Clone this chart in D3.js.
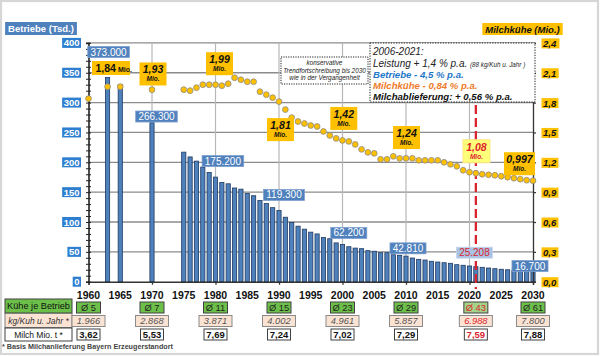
<!DOCTYPE html>
<html><head><meta charset="utf-8">
<script src="https://cdn.jsdelivr.net/npm/d3@7"></script>
<style>body{margin:0;background:#fff}svg{display:block;font-family:"Liberation Sans",Arial,sans-serif}</style>
</head><body><svg id="c" width="600" height="356"></svg>
<script>
// ---------- data ----------
const barYears = [1963,1965,1970,1975,1976,1977,1978,1979,1980,1981,1982,1983,1984,1985,1986,1987,1988,1989,1990,1991,1992,1993,1994,1995,1996,1997,1998,1999,2000,2001,2002,2003,2004,2005,2006,2007,2008,2009,2010,2011,2012,2013,2014,2015,2016,2017,2018,2019,2020,2021,2022,2023,2024,2025,2026,2027,2028,2029,2030];
const betriebe = [342,330,266.3,217,209,202,192,183,175.2,166,164,157,155,148,144,136,131,124,119.3,108,99,93,88,83,80,74,72,65,62.2,58.6,56.3,55.3,52,51,48.6,48.6,45.2,44.2,42.8,39.7,37.5,36.3,34.2,33,31.8,30.8,28.5,27.5,26.3,25.2,24.1,22.9,21.8,20.8,20,19.2,18.4,17.5,16.7];
const kuhYears = [1960,1963,1965,1970,1975,1976,1977,1978,1979,1980,1981,1982,1983,1984,1985,1986,1987,1988,1989,1990,1991,1992,1993,1994,1995,1996,1997,1998,1999,2000,2001,2002,2003,2004,2005,2006,2007,2008,2009,2010,2011,2012,2013,2014,2015,2016,2017,2018,2019,2020,2021,2022,2023,2024,2025,2026,2027,2028,2029,2030];
const milchkuehe = [1.84,1.96,1.96,1.93,1.93,1.92,1.95,1.98,1.98,1.98,1.97,1.99,2.05,2.03,2.01,2.01,1.91,1.88,1.85,1.81,1.73,1.65,1.61,1.59,1.57,1.56,1.51,1.47,1.44,1.42,1.41,1.38,1.33,1.30,1.29,1.23,1.23,1.26,1.24,1.24,1.24,1.22,1.22,1.22,1.22,1.20,1.18,1.16,1.12,1.10,1.09,1.08,1.075,1.07,1.06,1.05,1.04,1.03,1.02,1.015];
const leftTicks = [0,50,100,150,200,250,300,350,400];
const rightTicks = [0,0.3,0.6,0.9,1.2,1.5,1.8,2.1,2.4];
const rightTickLabels = ["0,0","0,3","0,6","0,9","1,2","1,5","1,8","2,1","2,4"];
const xLabelYears = [1960,1965,1970,1975,1980,1985,1990,1995,2000,2005,2010,2015,2020,2025,2030];
const gridYears = [1970,1980,1990,2000,2010,2020];
const betriebeLabelYears = [1963,1970,1980,1990,2000,2010,2021,2030];
const betriebeLabelTexts = ["373.000","266.300","175.200","119.300","62.200","42.810","25.208","16.700"];
const kuhLabelYears = [1960,1970,1980,1990,2000,2010,2021,2030];
const kuhLabelTexts = ["1,84","1,93","1,99","1,81","1,42","1,24","1,08","0,997"];
const tableYears = [1960,1970,1980,1990,2000,2010,2021,2030];
const kueheJeBetrieb = ["Ø 5","Ø 7","Ø 11","Ø 15","Ø 23","Ø 29","Ø 43","Ø 61"];
const kgProKuh = ["1.966","2.868","3.871","4.002","4.961","5.857","6.988","7.800"];
const milchMioT = ["3,62","5,53","7,69","7,24","7,02","7,29","7,59","7,88"];
const highlightYear = 2021;

// ---------- layout ----------
const svg = d3.select("#c");
const x = d3.scaleLinear().domain([1960,2030]).range([88.5,533]);
const yL = d3.scaleLinear().domain([0,400]).range([281.7,42.9]);
const yR = d3.scaleLinear().domain([0,2.4]).range([281.7,42.9]);
const BLUE = "#4f81bd", TICKBLUE = "#2f7fd0", YEL = "#ffc000", RED = "#d9262e";

svg.append("rect").attr("x",1).attr("y",1).attr("width",597).attr("height",353)
  .attr("fill","#fff").attr("stroke","#d6d6d6").attr("stroke-width",2.2);

function boxText(parent, cx, cy, text, o) {
  const g = parent.append("g");
  const t = g.append("text").attr("x",cx).attr("y",cy).attr("text-anchor",o.anchor||"middle")
    .attr("dominant-baseline","central").attr("font-size",o.size).attr("font-weight",o.weight||"normal")
    .attr("font-style",o.style||"normal").attr("fill",o.color).text(text);
  const bb = t.node().getBBox();
  const w = o.w || bb.width + 2*(o.padX||2);
  const h = o.h || 11;
  let left = o.anchor==="end" ? cx - bb.width - (o.padX||2) : (o.anchor==="start" ? cx-(o.padX||2) : cx - w/2);
  g.insert("rect","text").attr("x",left).attr("y",cy-h/2).attr("width",w).attr("height",h)
    .attr("fill",o.fill).attr("stroke",o.stroke||"none").attr("stroke-width",o.sw||1);
  return g;
}

// gridlines
svg.append("g").selectAll("line").data(leftTicks.slice(1)).join("line")
  .attr("x1",x(1960)).attr("x2",x(2030)).attr("y1",d=>yL(d)).attr("y2",d=>yL(d))
  .attr("stroke","#8c8c8c").attr("stroke-width",1.3);
svg.append("g").selectAll("line").data(gridYears).join("line")
  .attr("x1",d=>x(d)).attr("x2",d=>x(d)).attr("y1",yL(400)).attr("y2",yL(0))
  .attr("stroke","#b8b8b8").attr("stroke-width",1.2);

// bars
const bw = 4.2;
svg.append("g").selectAll("rect").data(barYears.map((y,i)=>({y,v:betriebe[i]}))).join("rect")
  .attr("x",d=>x(d.y)-bw/2).attr("width",bw).attr("y",d=>yL(d.v)).attr("height",d=>yL(0)-yL(d.v))
  .attr("fill",BLUE).attr("stroke","#1f3a60").attr("stroke-width",0.8);

// axes
const gx = svg.append("g").attr("transform",`translate(0,${yL(0)})`)
  .call(d3.axisBottom(x).tickValues(gridYears.concat([1960,2030])).tickSize(3).tickFormat(""));
gx.select(".domain").attr("stroke","#333").attr("stroke-width",1.5);
gx.selectAll(".tick line").attr("stroke","#333").attr("stroke-width",1.3);

const gl = svg.append("g").attr("transform",`translate(${x(1960)},0)`)
  .call(d3.axisLeft(yL).tickValues(d3.range(0,401,10)).tickSize(2.5).tickFormat(""));
gl.select(".domain").attr("stroke","#222").attr("stroke-width",1.6);
gl.selectAll(".tick line").attr("stroke","#222").attr("stroke-width",1);
const gl2 = svg.append("g").attr("transform",`translate(${x(1960)},0)`)
  .call(d3.axisRight(yL).tickValues(d3.range(0,401,10)).tickSize(2.5).tickFormat(""));
gl2.select(".domain").remove();
gl2.selectAll(".tick line").attr("stroke","#222").attr("stroke-width",1);

const gr = svg.append("g").attr("transform",`translate(${x(2030)},0)`)
  .call(d3.axisRight(yR).tickValues(rightTicks).tickSize(3).tickFormat(""));
gr.select(".domain").attr("stroke","#333").attr("stroke-width",1.3);
gr.selectAll(".tick line").attr("stroke","#333").attr("stroke-width",1.2);

// left tick labels
leftTicks.forEach(v=>{
  boxText(svg, 79.5, yL(v), String(v), {anchor:"end",size:9.5,weight:"bold",color:"#fff",fill:TICKBLUE,h:10,padX:1.5});
});
// right tick labels
rightTicks.forEach((v,i)=>{
  boxText(svg, 543, yR(v)+0.5, rightTickLabels[i], {anchor:"start",size:9.5,weight:"bold",style:"italic",color:"#111",fill:YEL,h:10,padX:1.5});
});

// x labels
svg.append("g").selectAll("text").data(xLabelYears).join("text")
  .attr("x",d=>x(d)).attr("y",299).attr("text-anchor","middle")
  .attr("font-size",10.5).attr("font-weight","bold").attr("fill","#111").text(d=>d);

// axis titles
boxText(svg, 41, 28.5, "Betriebe (Tsd.)", {size:9.5,weight:"bold",color:"#fff",fill:BLUE,h:13,padX:3});
boxText(svg, 522.5, 29, "Milchkühe (Mio.)", {size:9.5,weight:"bold",style:"italic",color:"#111",fill:YEL,h:12,padX:3});

// red dashed line
svg.append("line").attr("x1",x(highlightYear)).attr("x2",x(highlightYear)).attr("y1",105).attr("y2",289)
  .attr("stroke",RED).attr("stroke-width",2.3).attr("stroke-dasharray","9,4");

// dots
svg.append("g").selectAll("circle").data(kuhYears.map((y,i)=>({y,v:milchkuehe[i]}))).join("circle")
  .attr("cx",d=>x(d.y)).attr("cy",d=>yR(d.v)).attr("r",2.9)
  .attr("fill",YEL).attr("stroke","#8a8a8a").attr("stroke-width",0.8);

// betriebe labels
const bOff = [[1,-25.5],[4.5,-6.2],[7.4,-16],[5,-15.5],[6.3,-11.6],[2,-7.8],[-1.4,-14],[-3,-5.7]];
betriebeLabelYears.forEach((yr,i)=>{
  const v = betriebe[barYears.indexOf(yr)];
  const hl = yr===highlightYear;
  boxText(svg, x(yr)+bOff[i][0], yL(v)+bOff[i][1], betriebeLabelTexts[i],
    {size:10,color:hl?"#d9262e":"#fff",fill:hl?"#a9c1e2":BLUE,h:11,padX:2.5,stroke:hl?"#c9d7ec":"#7ea0cf",sw:0.8});
});

// milchkühe labels
const kOff = [[22.5,-30.6],[1,-15.7],[4,-21],[1.5,28],[1.3,-22],[0.5,-20.8],[0.6,-22],[-13.5,-17]];
kuhLabelYears.forEach((yr,i)=>{
  const v = milchkuehe[kuhYears.indexOf(yr)];
  const cx = x(yr)+kOff[i][0], cy = yR(v)+kOff[i][1];
  const hl = yr===highlightYear;
  const col = hl ? "#e0202a" : "#111";
  const g = svg.append("g");
  if (i===0) {
    g.append("rect").attr("x",cx-19).attr("y",cy-7).attr("width",38).attr("height",14).attr("fill",YEL);
    const t = g.append("text").attr("x",cx-15.5).attr("y",cy+3.8).attr("fill",col).attr("font-weight","bold");
    t.append("tspan").attr("font-size",10.5).text(kuhLabelTexts[i]);
    t.append("tspan").attr("font-size",7).text(" Mio.");
  } else {
    const w = kuhLabelTexts[i].length>4 ? 31 : 27;
    g.append("rect").attr("x",cx-w/2).attr("y",cy-11.5).attr("width",w).attr("height",23)
      .attr("fill",hl?"#ffff7a":YEL).attr("stroke",hl?"#ffe680":"none");
    g.append("text").attr("x",cx).attr("y",cy-0.5).attr("text-anchor","middle").attr("fill",col)
      .attr("font-size",10.5).attr("font-weight","bold").attr("font-style","italic").text(kuhLabelTexts[i]);
    g.append("text").attr("x",cx).attr("y",cy+7.5).attr("text-anchor","middle").attr("fill",col)
      .attr("font-size",6.5).attr("font-weight","bold").attr("font-style","italic").text("Mio.");
  }
});

// trend note box
const nb = svg.append("g");
nb.append("rect").attr("x",281).attr("y",57).attr("width",87).attr("height",27).attr("fill","#fff")
  .attr("stroke","#222").attr("stroke-width",1).attr("stroke-dasharray","1.2,1.2");
["konservative","Trendfortschreibung bis 2030","wie in der Vergangenheit"].forEach((s,i)=>{
  nb.append("text").attr("x",324.5).attr("y",65+i*7.6).attr("text-anchor","middle").attr("font-size",6.4)
    .attr("font-style","italic").attr("fill","#222").text(s);
});

// legend box
const lb = svg.append("g");
lb.append("rect").attr("x",370).attr("y",43).attr("width",165).attr("height",59).attr("fill","#fff")
  .attr("stroke","#222").attr("stroke-width",1).attr("stroke-dasharray","1.3,1.3");
lb.append("text").attr("x",373).attr("y",55).attr("font-size",10).attr("font-style","italic").attr("fill","#222").text("2006-2021:");
const lt = lb.append("text").attr("x",373).attr("y",66.5).attr("font-style","italic").attr("fill","#222");
lt.append("tspan").attr("font-size",10).text("Leistung + 1,4 % p.a. ");
lt.append("tspan").attr("font-size",6.3).text("(88 kg/Kuh u. Jahr )");
[["Betriebe - 4,5 % p.a.","#1f77c8",77.5],["Milchkühe - 0,84 % p.a.","#ef7a2a",88.5],["Milchablieferung: + 0,56 % p.a.","#111",99.5]]
  .forEach(d=>{
    lb.append("text").attr("x",373).attr("y",d[2]).attr("font-size",9.6).attr("font-weight","bold")
      .attr("font-style","italic").attr("fill",d[1]).text(d[0]);
  });

// table
const tb = svg.append("g");
function cell(cx, cy, w, h, text, o) {
  tb.append("rect").attr("x",cx-w/2).attr("y",cy-h/2).attr("width",w).attr("height",h)
    .attr("fill",o.fill).attr("stroke",o.stroke||"#404040").attr("stroke-width",1);
  tb.append("text").attr("x",cx).attr("y",cy).attr("dominant-baseline","central").attr("text-anchor","middle")
    .attr("font-size",o.size||9.5).attr("font-weight",o.weight||"normal").attr("font-style",o.style||"normal")
    .attr("fill",o.color||"#111").text(text);
}
cell(38.5, 306, 67, 14, "Kühe je Betrieb", {fill:"#6cc04a",size:9.2});
cell(38.5, 320.5, 67, 14, "kg/Kuh u. Jahr *", {fill:"#fbe3d4",style:"italic",size:8.5,color:"#333",stroke:"#7f7f7f"});
cell(38.5, 334.5, 67, 13, "Milch Mio. t *", {fill:"#fff",size:8.5});
tableYears.forEach((yr,i)=>{
  const hl = yr===highlightYear, cx = x(yr);
  cell(cx, 307.5, 24, 11, kueheJeBetrieb[i], {fill:hl?"#a6d38a":"#6cc04a",size:9.3,color:hl?"#d9262e":"#222"});
  cell(cx, 321, 33, 11, kgProKuh[i], {fill:"#fbe3d4",style:"italic",size:9.3,color:hl?"#d9262e":"#555",stroke:"#8a8a8a"});
  cell(cx, 334.5, 23, 11, milchMioT[i], {fill:"#fff",weight:"bold",size:9.5,color:hl?"#d9262e":"#111"});
});
svg.append("text").attr("x",2).attr("y",348.5).attr("font-size",7.2).attr("font-weight","bold").attr("fill","#444")
  .text("* Basis Milchanlieferung Bayern Erzeugerstandort");
</script></body></html>
